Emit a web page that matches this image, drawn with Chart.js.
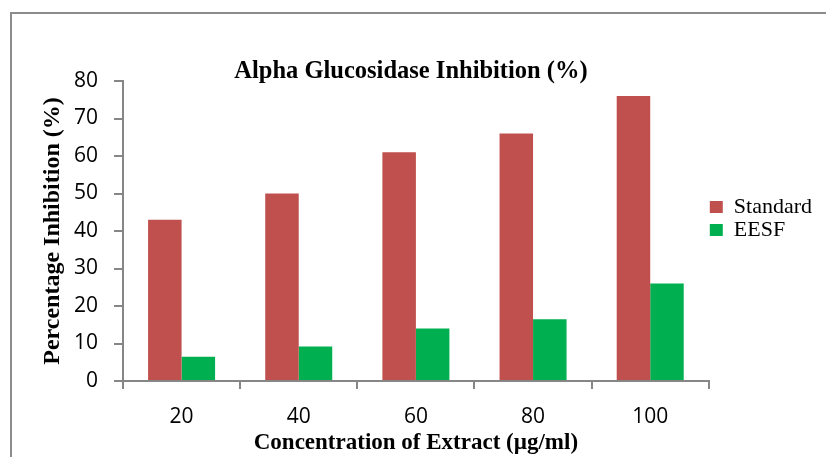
<!DOCTYPE html>
<html>
<head>
<meta charset="utf-8">
<script src="https://cdn.jsdelivr.net/npm/chart.js@4.4.1/dist/chart.umd.min.js"></script>
<style>
  html, body { margin: 0; padding: 0; background: #fff; }
  #wrap { position: relative; width: 826px; height: 457px; overflow: hidden; }
  #frame { position: absolute; left: 10px; top: 12px; width: 900px; height: 600px;
           border-left: 2px solid #8c8c8c; border-top: 2px solid #8c8c8c; pointer-events: none; }
  canvas { position: absolute; left: 0; top: 0; }
</style>
</head>
<body>
<div id="wrap">
  <canvas id="c" width="826" height="457"></canvas>
  <div id="frame"></div>
</div>
<script>
const categories = ['20', '40', '60', '80', '100'];
const standardValues = [43, 50, 61, 66, 76];
const eesfValues = [6.5, 9.2, 14, 16.5, 26];
const yTicks = [0, 10, 20, 30, 40, 50, 60, 70, 80];

const serif = "'Liberation Serif', 'Times New Roman', serif";
const sans = "'Open Sans', 'Liberation Sans', sans-serif";
const axisGrey = '#868686';

new Chart(document.getElementById('c'), {
  type: 'bar',
  data: {
    labels: categories,
    datasets: [
      { label: 'Standard', data: standardValues, backgroundColor: '#C0504D', borderWidth: 0 },
      { label: 'EESF', data: eesfValues, backgroundColor: '#00B050', borderWidth: 0 }
    ]
  },
  options: {
    responsive: false,
    devicePixelRatio: 1,
    animation: false,
    layout: { padding: { left: 0, right: 4, top: 0, bottom: 0 } },
    datasets: { bar: { categoryPercentage: 0.572, barPercentage: 1.0 } },
    plugins: {
      tooltip: { enabled: false },
      title: {
        display: true,
        text: 'Alpha Glucosidase Inhibition (%)',
        color: '#000',
        font: { family: serif, size: 24.5, weight: 'bold', lineHeight: 0.6 },
        padding: { top: 64.6, bottom: 1.7 }
      },
      legend: {
        display: true,
        position: 'right',
        align: 'start',
        title: { display: true, text: ' ', font: { size: 10, lineHeight: 1 }, padding: { top: 185, bottom: 0 } },
        labels: {
          color: '#000',
          boxWidth: 13,
          boxHeight: 12,
          padding: 1,
          font: { family: serif, size: 22 }
        }
      }
    },
    scales: {
      x: {
        afterFit: (s) => { s.height = 76; },
        grid: { display: true, drawOnChartArea: false, drawTicks: true, tickLength: 8, color: axisGrey, lineWidth: 2, offset: true },
        border: { display: true, color: axisGrey, width: 2 },
        ticks: { color: '#000', padding: 15, font: { family: sans, size: 21 } },
        title: {
          display: true,
          text: 'Concentration of Extract (µg/ml)',
          color: '#000',
          font: { family: serif, size: 23, weight: 'bold', lineHeight: 1 },
          padding: { top: 0, bottom: 2.5 }
        }
      },
      y: {
        min: 0,
        max: 80,
        afterFit: (s) => { s.width = 123; },
        afterBuildTicks: (s) => { s.ticks = yTicks.map(v => ({ value: v })); },
        grid: { display: true, drawOnChartArea: false, drawTicks: true, tickLength: 9, color: axisGrey, lineWidth: 2 },
        border: { display: true, color: axisGrey, width: 2 },
        ticks: { color: '#000', padding: 16, font: { family: sans, size: 21 } },
        title: {
          display: true,
          text: 'Percentage Inhibition (%)',
          color: '#000',
          font: { family: serif, size: 24, weight: 'bold', lineHeight: 1 },
          padding: { top: 41, bottom: 0 }
        }
      }
    }
  }
});
</script>
</body>
</html>
